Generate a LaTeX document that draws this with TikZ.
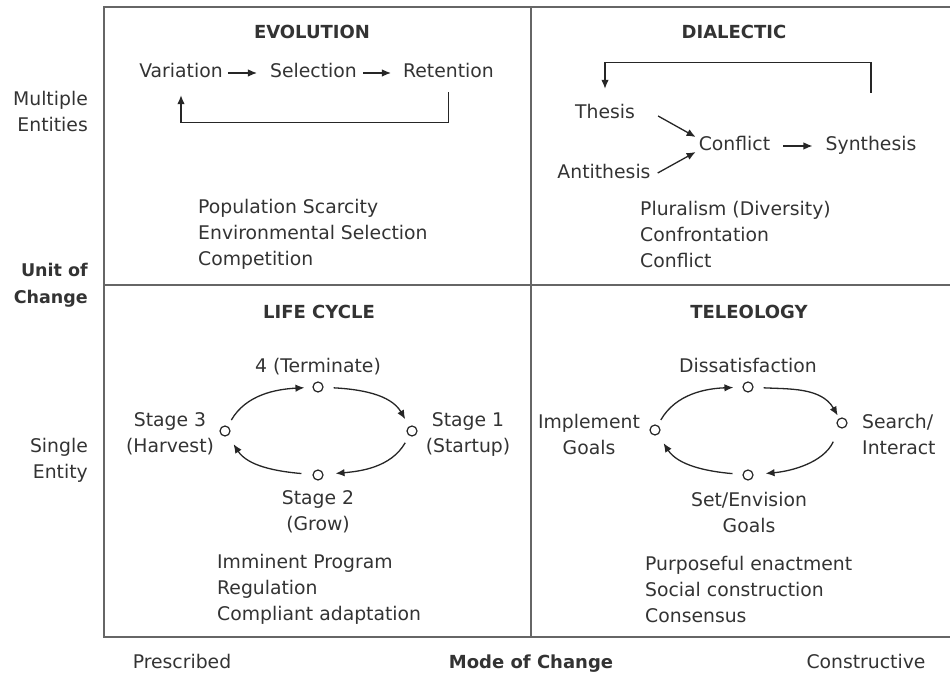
\documentclass[tikz,border=0pt]{standalone}
\usepackage{fontspec}
\setmainfont{DejaVu Sans}
\usetikzlibrary{arrows.meta,calc}
\begin{document}
\begin{tikzpicture}[x=1pt,y=1pt,
  every node/.style={font=\fontsize{18.8}{26}\selectfont, text=black!80, inner sep=0pt},
  ttl/.style={font=\fontsize{18}{26}\selectfont\bfseries},
  axb/.style={font=\fontsize{17.5}{27}\selectfont\bfseries},
  lbl/.style={text height=14pt, text depth=4pt},
  lst/.style={align=left, anchor=west},
  frame/.style={draw=black!60, line width=1.8pt},
  arr/.style={draw=black!85, line width=1.3pt, -{Latex[length=9pt,width=7.5pt]}},
  dot/.style={circle, draw=black!85, line width=1.2pt, minimum size=10pt, fill=white},
]
\useasboundingbox (0,0) rectangle (950,675);

% outer frame and quadrant dividers
\draw[frame] (953,668) -- (104,668) -- (104,38) -- (953,38);
\draw[frame] (531,668) -- (531,38);
\draw[frame] (104,390) -- (953,390);

% axis labels
\node[align=right, anchor=east] (multi) at (88,564) {Multiple\\Entities};
\node[axb, align=right, anchor=east] (unit) at (88,390) {Unit of\\Change};
\node[align=right, anchor=east] (single) at (88,215) {Single\\Entity};
\node[lbl] (pres) at (182,12) {Prescribed};
\node[lbl, ttl] (mode) at (531,12) {Mode of Change};
\node[lbl] (cons) at (866,12) {Constructive};

% evolution
\node[lbl, ttl] (evo) at (312,641) {EVOLUTION};
\node[lbl] (var) at (181,602) {Variation};
\node[lbl] (sel) at (313.5,602) {Selection};
\node[lbl] (ret) at (448.5,602) {Retention};
\draw[arr] ([xshift=5pt]var.east) -- ([xshift=-13pt]sel.west);
\draw[arr] ([xshift=6pt]sel.east) -- ([xshift=-12pt]ret.west);
\draw[arr] ([yshift=-10pt]ret.south) -- ++(0,-30) -| ([yshift=-13pt]var.south);
\node[lst] (evoList) at (198,441) {Population Scarcity\\Environmental Selection\\Competition};

% dialectic
\node[lbl, ttl] (dia) at (734,641) {DIALECTIC};
\node[lbl] (thesis) at (605,561) {Thesis};
\node[lbl] (anti) at (604,501) {Antithesis};
\node[lbl] (conf) at (734.5,529) {Conflict};
\node[lbl] (syn) at (871,529) {Synthesis};
\draw[arr] ($(thesis.east)+(23,-2)$) -- ($(conf.west)+(-3,9)$);
\draw[arr] ($(anti.east)+(7,1)$) -- ($(conf.west)+(-3,-6)$);
\draw[arr] ([xshift=13pt]conf.east) -- ([xshift=-13pt]syn.west);
\draw[arr] ([yshift=44pt]syn.north) -- ++(0,30) -| ([yshift=16pt]thesis.north);
\node[lst] (diaList) at (640,441) {Pluralism (Diversity)\\Confrontation\\Conflict};

% life cycle
\node[lbl, ttl] (lc) at (319,361) {LIFE CYCLE};
\node[dot] (lcT) at (318,288) {};
\node[dot] (lcR) at (412,244) {};
\node[dot] (lcB) at (318,200) {};
\node[dot] (lcL) at (225,244) {};
\node[lbl] (lcTl) at (318,307) {4 (Terminate)};
\node[align=center] (lcRl) at (468,241) {Stage 1\\(Startup)};
\node[align=center] (lcLl) at (170,241) {Stage 3\\(Harvest)};
\node[align=center] (lcBl) at (318,163) {Stage 2\\(Grow)};
\draw[arr, shorten <=7pt, shorten >=8pt] (lcL) to[out=60,in=183] (lcT);
\draw[arr, shorten <=10pt, shorten >=8pt] (lcT) to[out=-3,in=120] (lcR);
\draw[arr, shorten <=8pt, shorten >=12pt] (lcR) to[out=-120,in=5] (lcB);
\draw[arr, shorten <=11pt, shorten >=10pt] (lcB) to[out=175,in=-57] (lcL);
\node[lst] (lcList) at (217,86) {Imminent Program\\Regulation\\Compliant adaptation};

% teleology
\node[lbl, ttl] (tel) at (749,361) {TELEOLOGY};
\node[dot] (tT) at (748,288) {};
\node[dot] (tR) at (842,252) {};
\node[dot] (tB) at (748,200) {};
\node[dot] (tL) at (655,245) {};
\node[lbl] (tTl) at (748,307) {Dissatisfaction};
\node[align=center] (tLl) at (589,241) {Implement\\Goals};
\node[align=left, anchor=west] (tRl) at (862,241) {Search/\\Interact};
\node[align=center] (tBl) at (749,163) {Set/Envision\\Goals};
\draw[arr, shorten <=6pt, shorten >=9pt] (tL) to[out=60,in=182] (tT);
\draw[arr, shorten <=10pt, shorten >=3pt] (tT) to[out=-3,in=120] (tR);
\draw[arr, shorten <=15pt, shorten >=12pt] (tR) to[out=-115,in=5] (tB);
\draw[arr, shorten <=10pt, shorten >=10pt] (tB) to[out=175,in=-57] (tL);
\node[lst] (telList) at (645,86) {Purposeful enactment\\Social construction\\Consensus};
\end{tikzpicture}
\end{document}
